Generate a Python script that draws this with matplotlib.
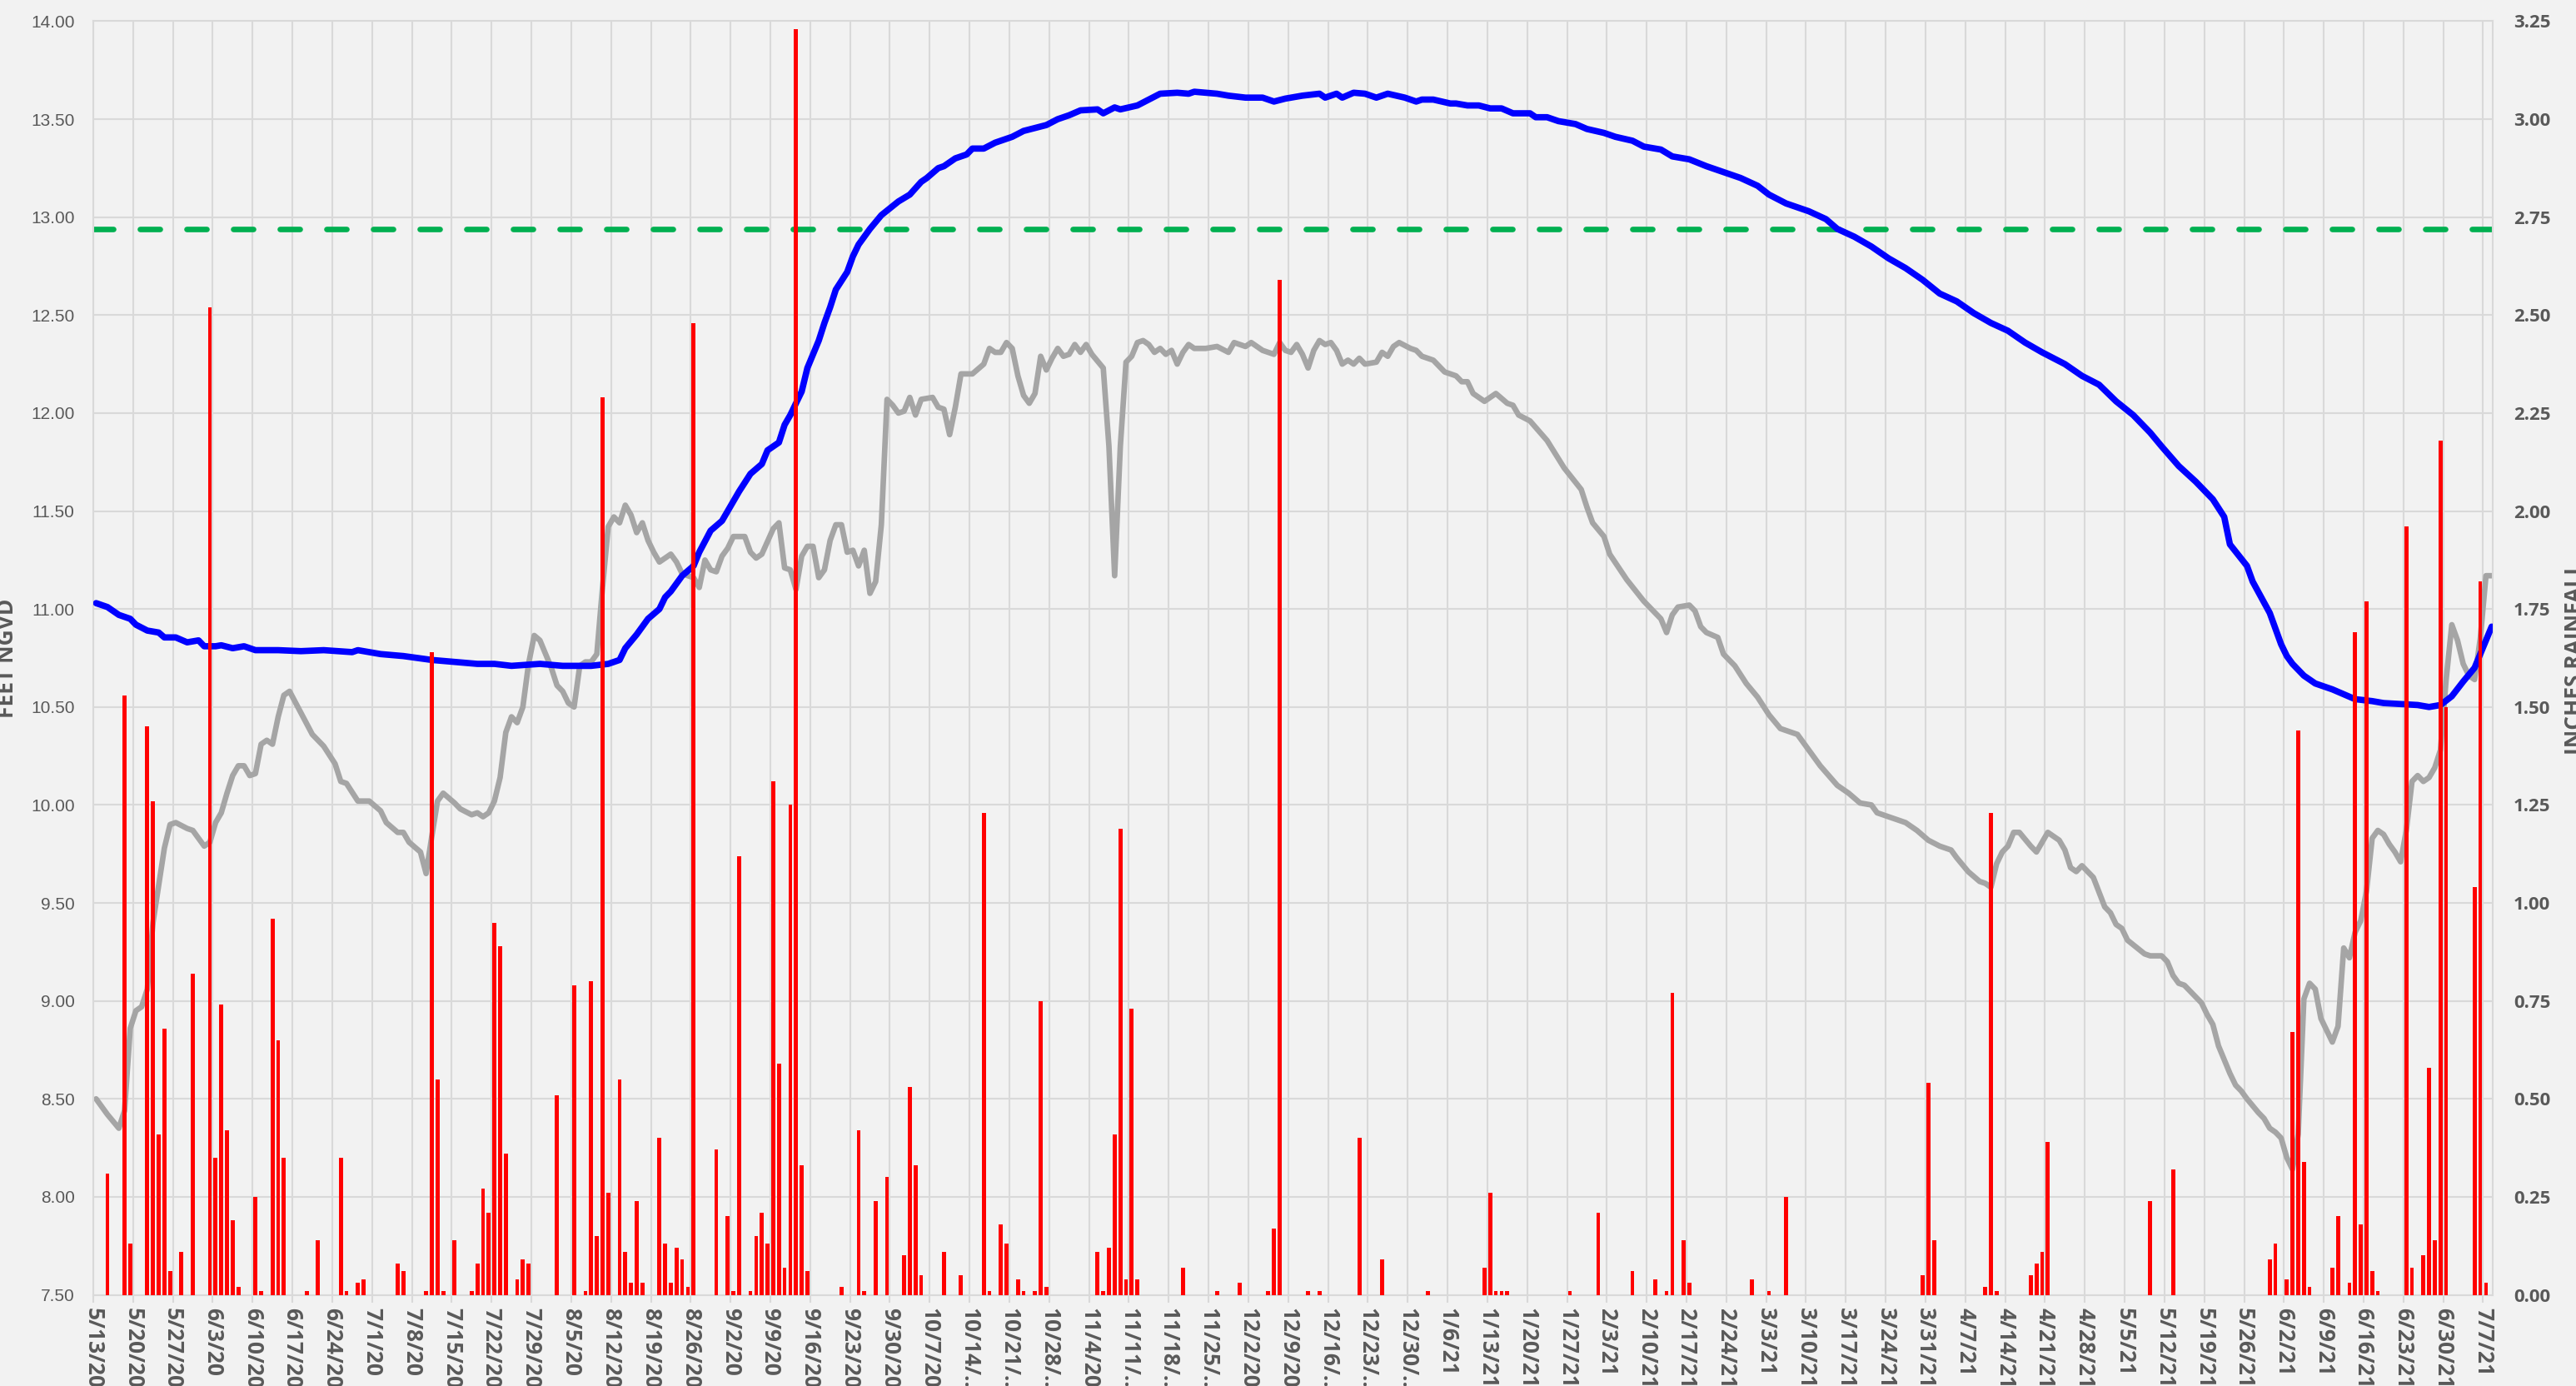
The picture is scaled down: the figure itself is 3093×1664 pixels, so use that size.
import numpy as np
import pandas as pd
import matplotlib
matplotlib.use("Agg")
import matplotlib.pyplot as plt

# --- datos (dias desde 5/13/2020) ---
START = pd.Timestamp("2020-05-13")
N_DAYS = 421.7
TARGET_FT = 12.94

blue_day = [0, 2, 4, 6, 7, 9, 11, 12, 14, 16, 18, 19, 21, 22, 24, 26, 28, 32, 36, 40,
            45, 46, 50, 54, 59, 63, 67, 70, 73, 78, 82, 87, 90, 92, 93, 95, 97, 99, 100, 101,
            103, 105, 106, 108, 110, 112, 113, 115, 117, 118, 120, 121, 122, 124, 125, 127, 128, 129, 130, 132,
            133, 134, 136, 138, 141, 143, 145, 146, 148, 149, 151, 153, 154, 156, 158, 161, 163, 167, 169, 171,
            173, 176, 177, 179, 180, 183, 185, 187, 190, 192, 193, 197, 199, 202, 205, 207, 209, 212, 215, 216,
            218, 219, 221, 223, 225, 227, 230, 232, 233, 235, 238, 239, 241, 243, 245, 247, 249, 252, 253, 255,
            257, 260, 262, 265, 267, 270, 272, 275, 277, 280, 283, 286, 289, 292, 294, 297, 301, 304, 306, 309,
            312, 315, 318, 321, 324, 327, 330, 333, 336, 339, 342, 346, 349, 352, 355, 358, 361, 363, 366, 369,
            372, 374, 375, 378, 379, 382, 384, 385, 386, 388, 390, 393, 395, 397, 400, 402, 405, 408, 410, 412,
            414, 416, 418, 419, 421]
blue_ft = [11.03, 11.01, 10.97, 10.95, 10.92, 10.89, 10.88, 10.855, 10.855, 10.83, 10.84, 10.81, 10.81, 10.815, 10.80, 10.81, 10.79, 10.79, 10.785, 10.79,
           10.78, 10.79, 10.77, 10.76, 10.74, 10.73, 10.72, 10.72, 10.71, 10.72, 10.71, 10.71, 10.72, 10.74, 10.80, 10.87, 10.95, 11.00, 11.06, 11.09,
           11.17, 11.22, 11.29, 11.40, 11.45, 11.55, 11.60, 11.69, 11.74, 11.81, 11.85, 11.94, 11.99, 12.11, 12.23, 12.37, 12.46, 12.54, 12.63, 12.72,
           12.80, 12.86, 12.94, 13.01, 13.08, 13.115, 13.18, 13.20, 13.25, 13.26, 13.30, 13.32, 13.35, 13.35, 13.38, 13.41, 13.44, 13.47, 13.50, 13.52,
           13.545, 13.55, 13.53, 13.56, 13.55, 13.57, 13.60, 13.63, 13.635, 13.63, 13.64, 13.63, 13.62, 13.61, 13.61, 13.59, 13.605, 13.62, 13.63, 13.61,
           13.63, 13.61, 13.635, 13.63, 13.61, 13.63, 13.61, 13.59, 13.60, 13.60, 13.58, 13.58, 13.57, 13.57, 13.555, 13.555, 13.53, 13.53, 13.51, 13.51,
           13.49, 13.475, 13.45, 13.43, 13.41, 13.39, 13.36, 13.345, 13.31, 13.295, 13.26, 13.23, 13.20, 13.16, 13.115, 13.07, 13.03, 12.99, 12.94, 12.90,
           12.85, 12.79, 12.74, 12.68, 12.61, 12.57, 12.51, 12.46, 12.42, 12.36, 12.31, 12.25, 12.19, 12.145, 12.06, 11.99, 11.90, 11.83, 11.73, 11.65,
           11.56, 11.47, 11.33, 11.22, 11.14, 10.98, 10.82, 10.76, 10.72, 10.66, 10.62, 10.59, 10.565, 10.54, 10.53, 10.52, 10.515, 10.51, 10.50, 10.51,
           10.555, 10.63, 10.70, 10.77, 10.91]

gray_day = [0, 2, 4, 5, 6, 7, 8, 9, 10, 12, 13, 14, 16, 17, 18, 19, 20, 21, 22, 23,
            24, 25, 26, 27, 28, 29, 30, 31, 32, 33, 34, 36, 38, 40, 42, 43, 44, 46, 48, 50,
            51, 53, 54, 55, 57, 58, 59, 60, 61, 63, 64, 66, 67, 68, 69, 70, 71, 72, 73, 74,
            75, 76, 77, 78, 80, 81, 82, 83, 84, 85, 86, 87, 88, 89, 90, 91, 92, 93, 94, 95,
            96, 97, 98, 99, 101, 102, 103, 105, 106, 107, 108, 109, 110, 111, 112, 114, 115, 116, 117, 119,
            120, 121, 122, 123, 124, 125, 126, 127, 128, 129, 130, 131, 132, 133, 134, 135, 136, 137, 138, 139,
            140, 141, 142, 143, 144, 145, 147, 148, 149, 150, 151, 152, 154, 156, 157, 158, 159, 160, 161, 162,
            163, 164, 165, 166, 167, 168, 169, 170, 171, 172, 173, 174, 175, 177, 178, 179, 180, 181, 182, 183,
            184, 185, 186, 187, 188, 189, 190, 191, 192, 193, 195, 197, 199, 200, 202, 203, 205, 207, 208, 209,
            210, 211, 212, 213, 214, 215, 216, 217, 218, 219, 220, 221, 222, 223, 225, 226, 227, 228, 229, 231,
            232, 233, 235, 236, 237, 239, 240, 241, 242, 244, 245, 246, 248, 249, 250, 252, 255, 258, 261, 262,
            263, 265, 266, 269, 272, 275, 276, 277, 278, 280, 281, 282, 283, 285, 286, 288, 290, 292, 294, 296,
            299, 301, 303, 306, 308, 310, 312, 313, 315, 318, 320, 322, 324, 326, 327, 329, 331, 332, 333, 334,
            335, 336, 337, 338, 340, 341, 343, 345, 346, 347, 348, 349, 351, 353, 354, 355, 356, 357, 360, 361,
            363, 364, 365, 366, 367, 368, 370, 371, 372, 373, 375, 376, 377, 378, 380, 381, 382, 383, 384, 385,
            386, 387, 388, 389, 390, 391, 392, 393, 394, 395, 396, 397, 398, 399, 400, 401, 402, 403, 404, 405,
            406, 407, 408, 409, 410, 411, 412, 413, 414, 415, 416, 417, 418, 419, 420, 421]
gray_ft = [8.50, 8.42, 8.35, 8.44, 8.86, 8.95, 8.97, 9.06, 9.40, 9.78, 9.90, 9.91, 9.88, 9.87, 9.83, 9.79, 9.81, 9.91, 9.96, 10.06,
           10.15, 10.20, 10.20, 10.15, 10.16, 10.31, 10.33, 10.31, 10.45, 10.56, 10.58, 10.47, 10.36, 10.30, 10.21, 10.12, 10.11, 10.02, 10.02, 9.97,
           9.91, 9.86, 9.86, 9.81, 9.76, 9.65, 9.84, 10.02, 10.06, 10.01, 9.98, 9.95, 9.96, 9.94, 9.96, 10.02, 10.14, 10.37, 10.45, 10.42,
           10.50, 10.72, 10.865, 10.84, 10.70, 10.61, 10.58, 10.52, 10.50, 10.71, 10.73, 10.73, 10.77, 11.11, 11.42, 11.47, 11.44, 11.53, 11.48, 11.39,
           11.44, 11.35, 11.29, 11.24, 11.28, 11.24, 11.18, 11.16, 11.11, 11.25, 11.20, 11.19, 11.27, 11.31, 11.37, 11.37, 11.29, 11.26, 11.28, 11.41,
           11.44, 11.21, 11.20, 11.10, 11.27, 11.32, 11.32, 11.16, 11.20, 11.35, 11.43, 11.43, 11.29, 11.30, 11.22, 11.30, 11.08, 11.14, 11.43, 12.07,
           12.04, 12.00, 12.01, 12.08, 11.99, 12.07, 12.08, 12.03, 12.02, 11.89, 12.03, 12.20, 12.20, 12.25, 12.33, 12.31, 12.31, 12.36, 12.33, 12.19,
           12.09, 12.05, 12.10, 12.29, 12.22, 12.28, 12.33, 12.29, 12.30, 12.35, 12.31, 12.35, 12.30, 12.23, 11.83, 11.17, 11.83, 12.26, 12.29, 12.36,
           12.37, 12.35, 12.31, 12.33, 12.30, 12.32, 12.25, 12.31, 12.35, 12.33, 12.33, 12.34, 12.31, 12.36, 12.34, 12.36, 12.32, 12.30, 12.36, 12.32,
           12.31, 12.35, 12.30, 12.23, 12.32, 12.37, 12.35, 12.36, 12.32, 12.25, 12.27, 12.25, 12.28, 12.25, 12.26, 12.31, 12.29, 12.34, 12.36, 12.33,
           12.32, 12.29, 12.27, 12.24, 12.21, 12.19, 12.16, 12.16, 12.10, 12.06, 12.08, 12.10, 12.05, 12.04, 11.99, 11.96, 11.86, 11.72, 11.61, 11.52,
           11.44, 11.37, 11.28, 11.15, 11.04, 10.95, 10.88, 10.97, 11.01, 11.02, 10.99, 10.91, 10.88, 10.855, 10.77, 10.71, 10.62, 10.55, 10.46, 10.39,
           10.36, 10.28, 10.20, 10.10, 10.06, 10.01, 10.00, 9.96, 9.94, 9.91, 9.87, 9.82, 9.79, 9.77, 9.73, 9.66, 9.61, 9.60, 9.58, 9.70,
           9.76, 9.79, 9.86, 9.86, 9.79, 9.76, 9.86, 9.82, 9.77, 9.68, 9.66, 9.69, 9.63, 9.48, 9.45, 9.39, 9.37, 9.31, 9.24, 9.23,
           9.23, 9.20, 9.13, 9.09, 9.08, 9.05, 8.99, 8.93, 8.88, 8.77, 8.63, 8.57, 8.54, 8.50, 8.43, 8.40, 8.35, 8.33, 8.30, 8.20,
           8.14, 8.32, 9.01, 9.09, 9.06, 8.91, 8.85, 8.79, 8.87, 9.27, 9.22, 9.35, 9.41, 9.56, 9.83, 9.87, 9.85, 9.80, 9.76, 9.71,
           9.87, 10.12, 10.15, 10.12, 10.14, 10.19, 10.28, 10.64, 10.92, 10.84, 10.72, 10.66, 10.64, 10.85, 11.17, 11.17]

rain_day = [2, 5, 6, 9, 10, 11, 12, 13, 15, 17, 20, 21, 22, 23, 24, 25, 28, 29, 31, 32,
            33, 37, 39, 43, 44, 46, 47, 53, 54, 58, 59, 60, 61, 63, 66, 67, 68, 69, 70, 71,
            72, 74, 75, 76, 81, 84, 86, 87, 88, 89, 90, 92, 93, 94, 95, 96, 99, 100, 101, 102,
            103, 104, 105, 109, 111, 112, 113, 115, 116, 117, 118, 119, 120, 121, 122, 123, 124, 125, 131, 134,
            135, 137, 139, 142, 143, 144, 145, 149, 152, 156, 157, 159, 160, 162, 163, 165, 166, 167, 176, 177,
            178, 179, 180, 181, 182, 183, 191, 197, 201, 206, 207, 208, 213, 215, 222, 226, 234, 244, 245, 246,
            247, 248, 259, 264, 270, 274, 276, 277, 279, 280, 291, 294, 297, 321, 322, 323, 332, 333, 334, 340,
            341, 342, 343, 361, 365, 382, 383, 385, 386, 387, 388, 389, 393, 394, 396, 397, 398, 399, 400, 401,
            406, 407, 409, 410, 411, 412, 413, 418, 419, 420]
rain_in = [0.31, 1.53, 0.13, 1.45, 1.26, 0.41, 0.68, 0.06, 0.11, 0.82, 2.52, 0.35, 0.74, 0.42, 0.19, 0.02, 0.25, 0.01, 0.96, 0.65,
           0.35, 0.01, 0.14, 0.35, 0.01, 0.03, 0.04, 0.08, 0.06, 0.01, 1.64, 0.55, 0.01, 0.14, 0.01, 0.08, 0.27, 0.21, 0.95, 0.89,
           0.36, 0.04, 0.09, 0.08, 0.51, 0.79, 0.01, 0.80, 0.15, 2.29, 0.26, 0.55, 0.11, 0.03, 0.24, 0.03, 0.40, 0.13, 0.03, 0.12,
           0.09, 0.02, 2.48, 0.37, 0.20, 0.01, 1.12, 0.01, 0.15, 0.21, 0.13, 1.31, 0.59, 0.07, 1.25, 3.23, 0.33, 0.06, 0.02, 0.42,
           0.01, 0.24, 0.30, 0.10, 0.53, 0.33, 0.05, 0.11, 0.05, 1.23, 0.01, 0.18, 0.13, 0.04, 0.01, 0.01, 0.75, 0.02, 0.11, 0.01,
           0.12, 0.41, 1.19, 0.04, 0.73, 0.04, 0.07, 0.01, 0.03, 0.01, 0.17, 2.59, 0.01, 0.01, 0.40, 0.09, 0.01, 0.07, 0.26, 0.01,
           0.01, 0.01, 0.01, 0.21, 0.06, 0.04, 0.01, 0.77, 0.14, 0.03, 0.04, 0.01, 0.25, 0.05, 0.54, 0.14, 0.02, 1.23, 0.01, 0.05,
           0.08, 0.11, 0.39, 0.24, 0.32, 0.09, 0.13, 0.04, 0.67, 1.44, 0.34, 0.02, 0.07, 0.20, 0.03, 1.69, 0.18, 1.77, 0.06, 0.01,
           1.96, 0.07, 0.10, 0.58, 0.14, 2.18, 1.50, 1.04, 1.82, 0.03]

TXT = "#595959"
GRID = "#D9D9D9"
BG = "#F2F2F2"

# etiquetas semanales al estilo Excel (se cortan con "..." si no caben)
tick_days = list(range(0, 421, 7))
tick_labels = []
for d in tick_days:
    t = START + pd.Timedelta(days=d)
    s = f"{t.month}/{t.day}/{t.year % 100}"
    tick_labels.append(s if len(s) <= 7 else s[:6] + "...")

fig = plt.figure(figsize=(30.93, 16.64), dpi=100, facecolor=BG)
ax = fig.add_axes([0.0362, 0.0658, 0.9315, 0.9189])
ax.set_facecolor(BG)

ax.plot(np.array(blue_day) + 0.5, blue_ft, color="#0000FF", lw=5.5,
        solid_joinstyle="round", solid_capstyle="round", zorder=3)
ax.plot(np.array(gray_day) + 0.5, gray_ft, color="#A5A5A5", lw=4.8,
        solid_joinstyle="round", solid_capstyle="round", zorder=2)
ax.axhline(TARGET_FT, color="#00B050", lw=4.8, dashes=(3.6, 4.8),
           dash_capstyle="round", zorder=2)

ax.set_xlim(0, N_DAYS)
ax.set_ylim(7.5, 14.0)
yt = np.arange(7.5, 14.01, 0.5)
ax.set_yticks(yt)
ax.set_yticklabels([f"{v:.2f}" for v in yt], family="Liberation Sans",
                   fontsize=15, color=TXT)
ax.set_xticks(tick_days)
ax.set_xticklabels(tick_labels, rotation=-90, family="Open Sans",
                   fontweight="bold", fontsize=19, color=TXT, ha="center", va="top")
ax.tick_params(axis="x", length=6.5, width=1.5, color=GRID, pad=5)
ax.tick_params(axis="y", length=0, pad=16)
ax.grid(True, color=GRID, lw=1.5)
ax.set_axisbelow(True)
for sp in ax.spines.values():
    sp.set_color(GRID)
    sp.set_linewidth(1.5)

# lluvia en el eje secundario
ax2 = ax.twinx()
ax2.bar(np.array(rain_day) + 0.5, rain_in, width=0.7, color="#FF0000", zorder=3)
ax2.set_ylim(0, 3.25)
rt = np.arange(0, 3.26, 0.25)
ax2.set_yticks(rt)
ax2.set_yticklabels([f"{v:.2f}" for v in rt], family="Open Sans",
                    fontweight="bold", fontsize=16, color=TXT)
ax2.tick_params(axis="y", length=0, pad=18)
for sp in ax2.spines.values():
    sp.set_visible(False)

fig.text(0.0026, 0.525, "FEET NGVD", rotation=90, ha="center", va="center",
         family="Open Sans", fontweight="bold", fontsize=19, color=TXT)
fig.text(0.9995, 0.525, "INCHES RAINFALL", rotation=90, ha="center", va="center",
         family="Open Sans", fontweight="bold", fontsize=19, color=TXT)

fig.savefig("out.png", dpi=100, facecolor=BG)
